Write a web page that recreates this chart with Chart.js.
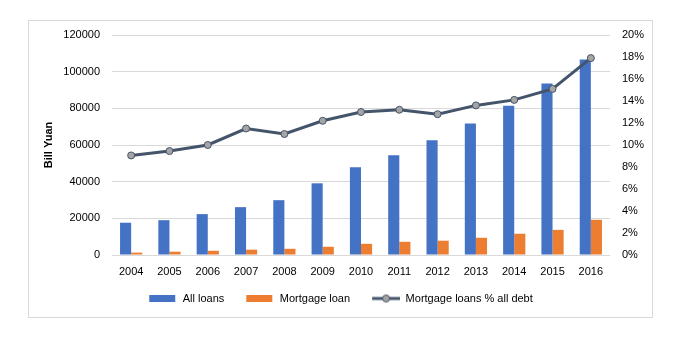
<!DOCTYPE html>
<html><head><meta charset="utf-8">
<script src="https://cdn.jsdelivr.net/npm/chart.js@4/dist/chart.umd.min.js"></script>
<style>
html,body{margin:0;padding:0;background:#fff;}
#frame{position:absolute;left:28px;top:20px;width:623px;height:296px;border:1px solid #d9d9d9;}
#c{position:absolute;left:0;top:0;}
</style></head><body>
<div id="frame"></div>
<canvas id="c" width="678" height="344"></canvas>
<script>
const years = ['2004','2005','2006','2007','2008','2009','2010','2011','2012','2013','2014','2015','2016'];
const allLoans = [17600,19000,22300,26100,29900,39100,47900,54400,62600,71700,81400,93600,106600];
const mortgageLoans = [1300,1800,2300,2900,3400,4500,6100,7200,7800,9400,11600,13700,19200];
const mortgagePct = [9.05,9.45,10.0,11.5,11.0,12.2,13.0,13.2,12.8,13.6,14.1,15.1,17.9];
const leftTicks = [0,20000,40000,60000,80000,100000,120000];
const rightTicks = [0,2,4,6,8,10,12,14,16,18,20];

const BLUE='#4472C4', ORANGE='#ED7D31', LINE='#44546A', MARK='#A5A5A5';
const M=12, IW=40;
function rectIcon(color){const c=document.createElement('canvas');c.width=IW;c.height=7;const x=c.getContext('2d');x.fillStyle=color;x.fillRect(M,0,26,7);return c;}
function lineIcon(){const c=document.createElement('canvas');c.width=IW;c.height=10;const x=c.getContext('2d');x.strokeStyle=LINE;x.lineWidth=3;x.beginPath();x.moveTo(M,5);x.lineTo(IW,5);x.stroke();x.beginPath();x.arc(M+14,5,3.5,0,Math.PI*2);x.fillStyle=MARK;x.fill();x.lineWidth=1;x.stroke();return c;}
const icons = {'All loans':rectIcon(BLUE),'Mortgage loan':rectIcon(ORANGE),'Mortgage loans % all debt':lineIcon()};
const FONT = {family:'"Liberation Sans", Arial, sans-serif', size:11};
const shiftLegend = {id:'shiftLegend', afterLayout(chart){ if(chart.legend){chart.legend.left-=10; chart.legend.right-=10;} }};
new Chart(document.getElementById('c'), {
  data:{labels:years, datasets:[
    {type:'line', label:'Mortgage loans % all debt', data:mortgagePct, yAxisID:'y1', order:-1,
     borderColor:LINE, borderWidth:3, pointRadius:3.5, pointBackgroundColor:MARK, pointBorderColor:LINE, pointBorderWidth:1, tension:0},
    {type:'bar', label:'All loans', data:allLoans, yAxisID:'y', backgroundColor:BLUE, categoryPercentage:0.58, barPercentage:1, order:1},
    {type:'bar', label:'Mortgage loan', data:mortgageLoans, yAxisID:'y', backgroundColor:ORANGE, categoryPercentage:0.58, barPercentage:1, order:1}
  ]},
  plugins:[shiftLegend],
  options:{responsive:false, animation:false, devicePixelRatio:1,
    layout:{padding:{left:42,right:30,top:35,bottom:30}},
    plugins:{tooltip:{enabled:false},
      legend:{position:'bottom', labels:{usePointStyle:true, pointStyleWidth:IW, color:'#000', font:FONT, padding:10,
        generateLabels:(chart)=>{const items=Chart.defaults.plugins.legend.labels.generateLabels(chart);items.forEach(i=>{i.pointStyle=icons[i.text];});return items;},
        sort:(a,b)=>{const o={'All loans':0,'Mortgage loan':1,'Mortgage loans % all debt':2};return o[a.text]-o[b.text];}}}},
    scales:{
      x:{grid:{display:false, drawTicks:false}, border:{display:false}, ticks:{color:'#000', font:FONT, padding:10},
         afterFit:s=>{s.height=28;}},
      y:{position:'left', min:0, max:120000, afterBuildTicks:s=>{s.ticks=leftTicks.map(v=>({value:v}));},
         grid:{color:'#d9d9d9', drawTicks:false}, border:{display:false},
         ticks:{color:'#000', font:FONT, padding:12, callback:v=>String(v)},
         title:{display:true, text:'Bill Yuan', color:'#000', font:{family:FONT.family,size:11,weight:'bold'}, padding:0},
         afterFit:s=>{s.width=70;}},
      y1:{position:'right', min:0, max:20, afterBuildTicks:s=>{s.ticks=rightTicks.map(v=>({value:v}));},
         grid:{display:false, drawTicks:false}, border:{display:false},
         ticks:{color:'#000', font:FONT, padding:12, callback:v=>v+'%'},
         afterFit:s=>{s.width=38;}}
    }
  }
});
</script></body></html>
